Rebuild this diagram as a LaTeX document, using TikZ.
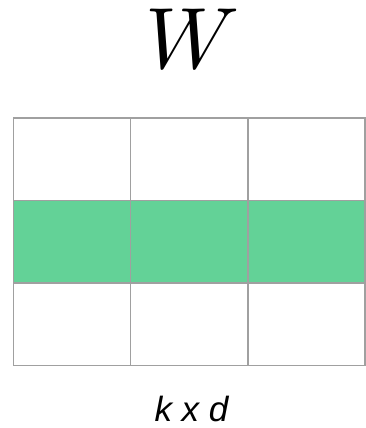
\documentclass[tikz,border=0pt]{standalone}
\usepackage{fontspec}
\setmainfont{Liberation Serif}
\newfontfamily\arialfont{Liberation Sans}
\definecolor{rowgreen}{HTML}{63D297}
\definecolor{gridgray}{HTML}{A0A0A0}
\begin{document}
\begin{tikzpicture}[x=1pt,y=-1pt,
  cell/.style={draw=gridgray,line width=1.5pt,minimum width=117.3pt,minimum height=82.5pt,inner sep=0pt,anchor=north west},
  hl/.style={cell,fill=rowgreen}]
\useasboundingbox (0,0) rectangle (365,428);
\node[anchor=base,inner sep=0pt] (title) at (193,68) {\scalebox{8.7}{$W$}};
\foreach \r in {0,1,2}{
  \foreach \c in {0,1,2}{
    \ifnum\r=1
      \node[hl] (c\r\c) at ({12.5+117.3*\c},{117+82.5*\r}) {};
    \else
      \node[cell] (c\r\c) at ({12.5+117.3*\c},{117+82.5*\r}) {};
    \fi
  }
}
\node[anchor=base,inner sep=0pt,font=\arialfont\fontsize{35}{35}\selectfont\itshape] (dims) at (191.5,421) {k x d};
\end{tikzpicture}
\end{document}
